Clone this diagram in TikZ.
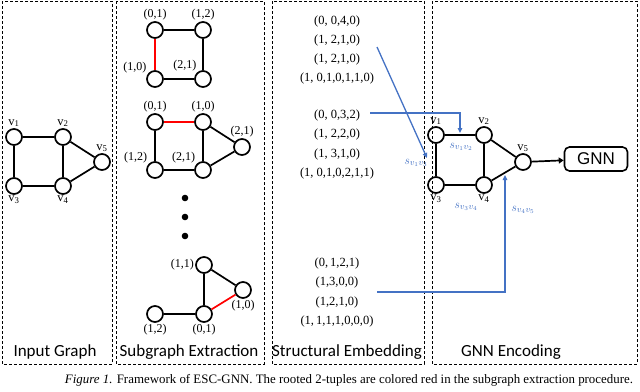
\documentclass[tikz,border=0pt]{standalone}
\usepackage{fontspec}
\setmainfont{Liberation Serif}
\newfontfamily\panelfont{Carlito}
\newfontfamily\boxfont{Liberation Sans}
\usetikzlibrary{arrows.meta}
\definecolor{embblue}{RGB}{68,114,196}

\tikzset{
  vtx/.style={circle, draw, line width=1.7pt, minimum size=16pt, inner sep=0pt},
  link/.style={line width=1.7pt},
  rootlink/.style={link, red},
  panel/.style={dash pattern=on 3pt off 2pt, line width=0.8pt},
  tuple/.style={font=\fontsize{12}{13}\selectfont, inner sep=1pt},
  vlab/.style={font=\fontsize{12.5}{14}\selectfont, inner sep=1pt},
  emb/.style={font=\fontsize{12.5}{14}\selectfont},
  paneltitle/.style={font=\panelfont\fontsize{17}{20}\selectfont},
  feed/.style={draw=embblue, line width=1.3pt, -{Triangle[length=5pt,width=4.5pt]}},
  slab/.style={text=embblue, font=\fontsize{13}{14}\selectfont, inner sep=0pt},
}

\begin{document}
\begin{tikzpicture}[x=1pt, y=-1pt]
    \useasboundingbox (0,0) rectangle (640,391);

    % Rahmen der vier Schritte
    \draw[panel] (2,1) rectangle (112,364);
    \draw[panel] (116,1) rectangle (264,364);
    \draw[panel] (272,1) rectangle (424,364);
    \draw[panel] (432,1) rectangle (637,364);

    \node[paneltitle] (t1) at (55,352) {Input Graph};
    \node[paneltitle] (t2) at (189,352) {Subgraph Extraction};
    \node[paneltitle] (t3) at (347,352) {Structural Embedding};
    \node[paneltitle] (t4) at (511,352) {GNN Encoding};

    % Eingabegraph
    \node[vtx, label={[vlab]above:v\textsubscript{1}}] (a1) at (14,137) {};
    \node[vtx, label={[vlab]above:v\textsubscript{2}}] (a2) at (63,137) {};
    \node[vtx, label={[vlab]below:v\textsubscript{3}}] (a3) at (14,186) {};
    \node[vtx, label={[vlab]below:v\textsubscript{4}}] (a4) at (63,186) {};
    \node[vtx, label={[vlab]above:v\textsubscript{5}}] (a5) at (102,162) {};
    \draw[link] (a1) -- (a2) (a1) -- (a3) (a3) -- (a4) (a2) -- (a4)
                (a2) -- (a5) (a4) -- (a5);

    % Teilgraph 1
    \node[vtx, label={[tuple]above:(0,1)}] (b1) at (155,30) {};
    \node[vtx, label={[tuple]above:(1,2)}] (b2) at (203,30) {};
    \node[vtx, label={[tuple]148:(1,0)}] (b3) at (155,79) {};
    \node[vtx, label={[tuple]128:(2,1)}] (b4) at (203,79) {};
    \draw[link] (b1) -- (b2) (b3) -- (b4) (b2) -- (b4);
    \draw[rootlink] (b1) -- (b3);

    % Teilgraph 2
    \node[vtx, label={[tuple]above:(0,1)}] (c1) at (155,122) {};
    \node[vtx, label={[tuple]above:(1,0)}] (c2) at (203,122) {};
    \node[vtx, label={[tuple]140:(1,2)}] (c3) at (155,170) {};
    \node[vtx, label={[tuple]140:(2,1)}] (c4) at (203,170) {};
    \node[vtx, label={[tuple]above:(2,1)}] (c5) at (242,147) {};
    \draw[link] (c1) -- (c3) (c3) -- (c4) (c2) -- (c4) (c2) -- (c5) (c4) -- (c5);
    \draw[rootlink] (c1) -- (c2);

    % Punkte
    \foreach \yy in {198,217,236}
        \fill (185,\yy) circle (3.3pt);

    % Teilgraph 3
    \node[vtx, label={[tuple]left:(1,1)}] (d1) at (204,265) {};
    \node[vtx, label={[tuple]below:(1,0)}] (d2) at (243,290) {};
    \node[vtx, label={[tuple]below:(0,1)}] (d3) at (204,314) {};
    \node[vtx, label={[tuple]below:(1,2)}] (d4) at (155,314) {};
    \draw[link] (d1) -- (d3) (d1) -- (d2) (d4) -- (d3);
    \draw[rootlink] (d2) -- (d3);

    % Strukturelle Einbettungen
    \node[emb] (e1) at (337,21) {(0, 0,4,0)};
    \node[emb] (e2) at (337,40) {(1, 2,1,0)};
    \node[emb] (e3) at (337,59) {(1, 2,1,0)};
    \node[emb] (e4) at (337,78) {(1, 0,1,0,1,1,0)};
    \node[emb] (f1) at (337,115) {(0, 0,3,2)};
    \node[emb] (f2) at (337,134.5) {(1, 2,2,0)};
    \node[emb] (f3) at (337,154) {(1, 3,1,0)};
    \node[emb] (f4) at (337,173.5) {(1, 0,1,0,2,1,1)};
    \node[emb] (g1) at (337,263) {(0,\,1,2,1)};
    \node[emb] (g2) at (337,282.5) {(1,3,0,0)};
    \node[emb] (g3) at (337,302) {(1,2,1,0)};
    \node[emb] (g4) at (337,321.5) {(1,\,1,1,1,0,0,0)};

    % GNN-Kodierung
    \node[vtx, label={[vlab]above:v\textsubscript{1}}] (h1) at (436,135) {};
    \node[vtx, label={[vlab]above:v\textsubscript{2}}] (h2) at (484,135) {};
    \node[vtx, label={[vlab]below:v\textsubscript{3}}] (h3) at (436,185) {};
    \node[vtx, label={[vlab]below:v\textsubscript{4}}] (h4) at (484,185) {};
    \node[vtx, label={[vlab]above:v\textsubscript{5}}] (h5) at (523,162) {};
    \draw[link] (h1) -- (h2) (h1) -- (h3) (h3) -- (h4) (h2) -- (h4)
                (h2) -- (h5) (h4) -- (h5);

    \node[draw, rounded corners=5pt, line width=1.6pt, minimum width=63pt,
          minimum height=24pt, font=\boxfont\fontsize{17}{20}\selectfont] (gnn) at (596,159) {GNN};
    \draw[link, -{Triangle[length=5pt,width=6pt]}] (h5) -- (gnn);

    % Zuordnung der Einbettungen zu Kanten
    \coordinate (s13) at (377,47);
    \coordinate (e13) at (427,158);
    \coordinate (s12) at (370,113);
    \coordinate (e12) at (460,133);
    \coordinate (s45) at (377,292);
    \coordinate (e45) at (505,175);
    \draw[feed] (s13) -- (e13);
    \draw[feed] (s12) -| (e12);
    \draw[feed] (s45) -| (e45);

    \node[slab] (l13) at (416,163) {$s_{v_1v_3}$};
    \node[slab] (l12) at (461,147) {$s_{v_1v_2}$};
    \node[slab] (l34) at (466,207) {$s_{v_3v_4}$};
    \node[slab] (l45) at (523,210) {$s_{v_4v_5}$};

    % Bildunterschrift
    \node[font=\fontsize{12.9}{15}\selectfont] (cap) at (349,380)
        {\textit{Figure 1.} Framework of ESC-GNN. The rooted 2-tuples are colored red in the subgraph extraction procedure.};
\end{tikzpicture}
\end{document}
